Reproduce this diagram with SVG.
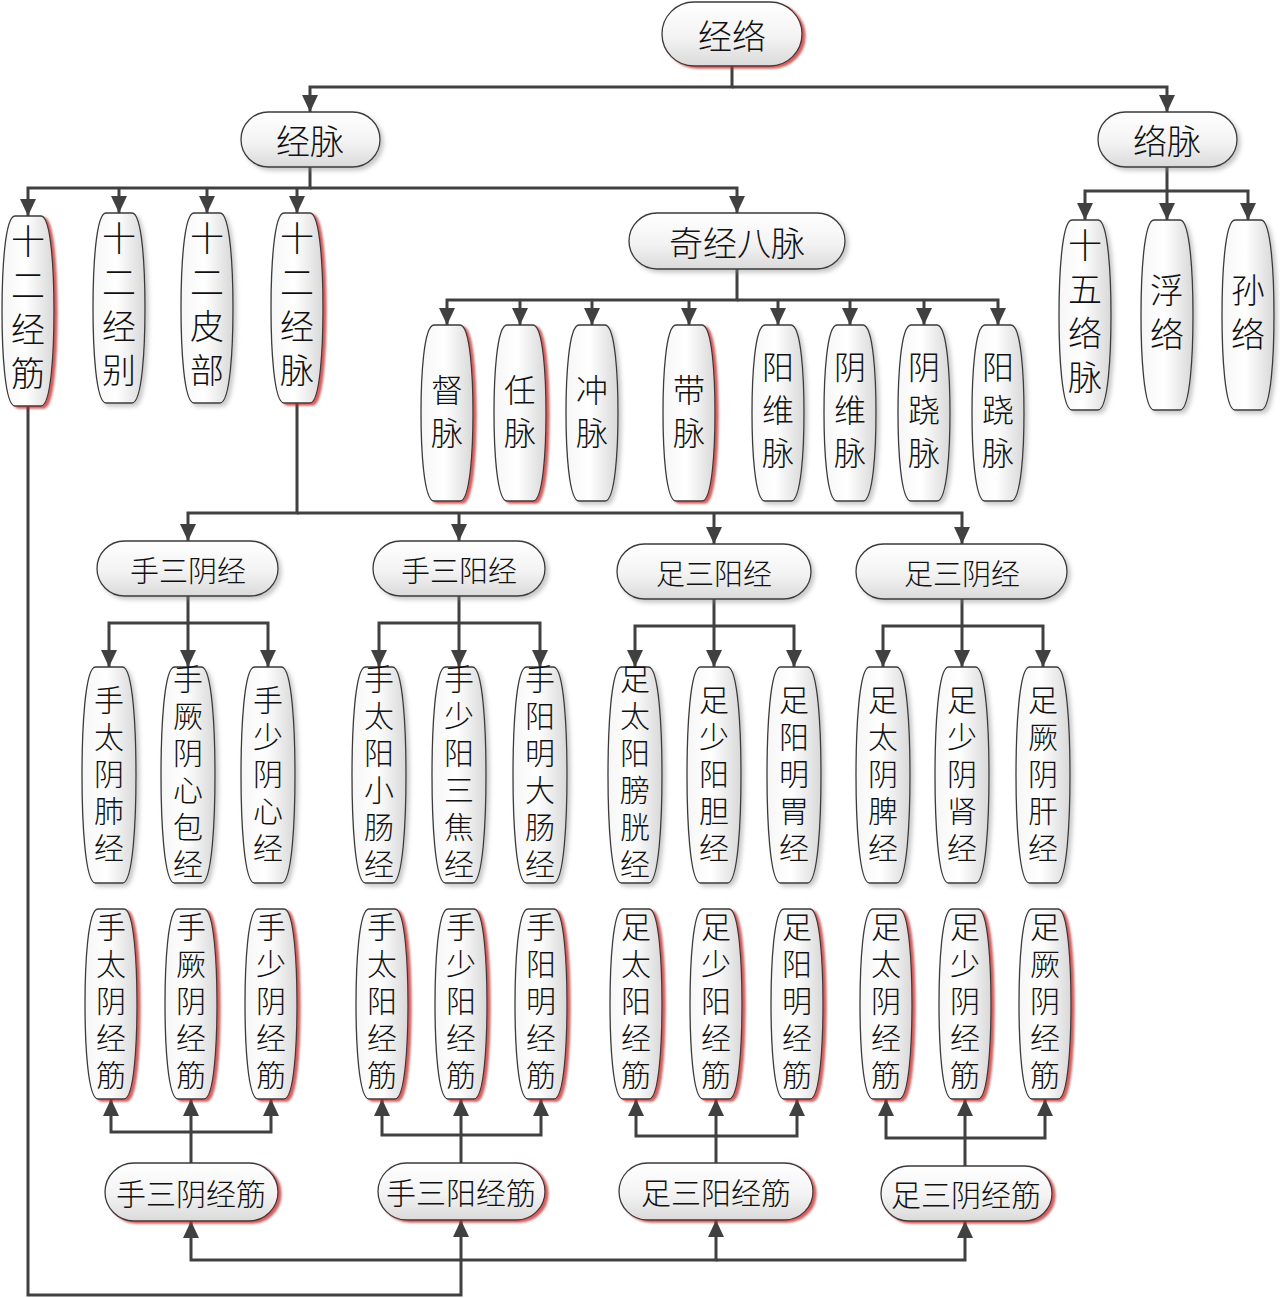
<svg xmlns="http://www.w3.org/2000/svg" width="1280" height="1298" viewBox="0 0 1280 1298">
<style>
.n{fill:url(#hg);stroke:#3a3a3a;stroke-width:1.3;filter:url(#sg)}
.v{fill:url(#vg);stroke:#3a3a3a;stroke-width:1.3;filter:url(#sg)}
.r{filter:url(#sr)}
.c{fill:none;stroke:#404040;stroke-width:3}
.a{marker-end:url(#ar)}
text{font-family:"Noto Sans CJK SC","Noto Sans CJK TC",sans-serif;fill:#111;text-anchor:middle;dominant-baseline:central;font-weight:300}
.vt{writing-mode:vertical-rl;text-anchor:start}
.t34{font-size:34px}.t32{font-size:32px}.t30{font-size:30px}.t29{font-size:29px}
.s10{letter-spacing:10px}.s11{letter-spacing:11px}.s7{letter-spacing:7px}
</style>
<defs>
<linearGradient id="hg" x1="0" y1="0" x2="0" y2="1"><stop offset="0" stop-color="#ffffff"/><stop offset="0.55" stop-color="#f3f3f3"/><stop offset="1" stop-color="#dadada"/></linearGradient>
<linearGradient id="vg" x1="0" y1="0" x2="1" y2="0"><stop offset="0" stop-color="#f6f6f6"/><stop offset="0.45" stop-color="#ffffff"/><stop offset="1" stop-color="#d8d8d8"/></linearGradient>
<filter id="sg" x="-20%" y="-20%" width="150%" height="150%"><feDropShadow dx="3" dy="3" stdDeviation="2" flood-color="#888" flood-opacity="0.45"/></filter>
<filter id="sr" x="-20%" y="-20%" width="150%" height="150%"><feDropShadow dx="3" dy="2" stdDeviation="0.8" flood-color="#c42a2a" flood-opacity="0.75"/></filter>
<marker id="ar" markerUnits="userSpaceOnUse" markerWidth="18" markerHeight="16" refX="17" refY="8" orient="auto"><path d="M0,0 L17,8 L0,16 Z" fill="#404040"/></marker>
<path id="b190" d="M13,0 L39,0 C49.4,0 52,57 52,95 C52,133 49.4,190 39,190 L13,190 C2.6,190 0,133 0,95 C0,57 2.6,0 13,0 Z"/>
<path id="b176" d="M13,0 L39,0 C49.4,0 52,52.8 52,88 C52,123.2 49.4,176 39,176 L13,176 C2.6,176 0,123.2 0,88 C0,52.8 2.6,0 13,0 Z"/>
<path id="b216" d="M13.5,0 L40.5,0 C51.3,0 54,64.8 54,108 C54,151.2 51.3,216 40.5,216 L13.5,216 C2.7,216 0,151.2 0,108 C0,64.8 2.7,0 13.5,0 Z"/>
</defs>
<rect width="1280" height="1298" fill="#ffffff"/>

<g id="connectors">
<path class="c a" d="M732,66 V87 H310 V112"/>
<path class="c a" d="M732,87 H1167 V112"/>
<path class="c a" d="M310,167 V188 H28 V216"/>
<path class="c a" d="M119,188 V213"/>
<path class="c a" d="M207,188 V213"/>
<path class="c a" d="M297,188 V213"/>
<path class="c a" d="M310,188 H737 V213"/>
<path class="c a" d="M1167,167 V191 H1085 V220"/>
<path class="c a" d="M1167,191 V220"/>
<path class="c a" d="M1167,191 H1248 V220"/>
<path class="c a" d="M737,269 V300 H447 V325"/>
<path class="c a" d="M520,300 V325"/>
<path class="c a" d="M592,300 V325"/>
<path class="c a" d="M689,300 V325"/>
<path class="c a" d="M737,300 H998 V325"/>
<path class="c a" d="M778,300 V325"/>
<path class="c a" d="M850,300 V325"/>
<path class="c a" d="M924,300 V325"/>
<path class="c a" d="M297,403 V513 H188 V541"/>
<path class="c a" d="M459,513 V541"/>
<path class="c a" d="M714,513 V544"/>
<path class="c a" d="M297,513 H962 V544"/>
<path class="c a" d="M188,596 V623 H109 V667"/>
<path class="c a" d="M188,623 V667"/>
<path class="c a" d="M188,623 H268 V667"/>
<path class="c a" d="M459,596 V623 H379 V667"/>
<path class="c a" d="M459,623 V667"/>
<path class="c a" d="M459,623 H540 V667"/>
<path class="c a" d="M714,599 V626 H635 V667"/>
<path class="c a" d="M714,626 V667"/>
<path class="c a" d="M714,626 H794 V667"/>
<path class="c a" d="M962,599 V626 H883 V667"/>
<path class="c a" d="M962,626 V667"/>
<path class="c a" d="M962,626 H1043 V667"/>
<path class="c a" d="M191,1163 V1132 H111 V1099"/>
<path class="c a" d="M191,1132 V1099"/>
<path class="c a" d="M191,1132 H271 V1099"/>
<path class="c a" d="M461,1163 V1135 H382 V1099"/>
<path class="c a" d="M461,1135 V1099"/>
<path class="c a" d="M461,1135 H541 V1099"/>
<path class="c a" d="M716,1163 V1136 H636 V1099"/>
<path class="c a" d="M716,1136 V1099"/>
<path class="c a" d="M716,1136 H797 V1099"/>
<path class="c a" d="M965,1166 V1138 H886 V1099"/>
<path class="c a" d="M965,1138 V1099"/>
<path class="c a" d="M965,1138 H1045 V1099"/>
<path class="c a" d="M28,406 V1295 H461 V1220"/>
<path class="c a" d="M461,1260 H191 V1221"/>
<path class="c a" d="M461,1260 H716 V1220"/>
<path class="c a" d="M716,1260 H965 V1221"/>
</g>

<g id="n-jingluo"><rect class="n r" x="662" y="2" width="140" height="64" rx="32"/><text class="t34" x="732" y="34">经络</text></g>
<g id="n-jingmai"><rect class="n" x="241" y="112" width="139" height="55" rx="27.5"/><text class="t34" x="310" y="139">经脉</text></g>
<g id="n-luomai"><rect class="n" x="1098" y="112" width="139" height="55" rx="27.5"/><text class="t34" x="1167" y="139">络脉</text></g>

<g id="n-12jingjin"><use href="#b190" class="v r" x="2" y="216"/><text class="t34 vt s10" x="28" y="224">十二经筋</text></g>
<g id="n-12jingbie"><use href="#b190" class="v" x="93" y="213"/><text class="t34 vt s10" x="119" y="221">十二经别</text></g>
<g id="n-12pibu"><use href="#b190" class="v" x="181" y="213"/><text class="t34 vt s10" x="207" y="221">十二皮部</text></g>
<g id="n-12jingmai"><use href="#b190" class="v r" x="271" y="213"/><text class="t34 vt s10" x="297" y="221">十二经脉</text></g>
<g id="n-qijingbamai"><rect class="n" x="629" y="213" width="216" height="56" rx="28"/><text class="t34" x="737" y="241">奇经八脉</text></g>

<g id="n-15luomai"><use href="#b190" class="v" x="1059" y="220"/><text class="t34 vt s10" x="1085" y="228">十五络脉</text></g>
<g id="n-fuluo"><use href="#b190" class="v" x="1141" y="220"/><text class="t34 vt s10" x="1167" y="273">浮络</text></g>
<g id="n-sunluo"><use href="#b190" class="v" x="1222" y="220"/><text class="t34 vt s10" x="1248" y="273">孙络</text></g>

<g id="n-dumai"><use href="#b176" class="v r" x="421" y="325"/><text class="t32 vt s11" x="447" y="374">督脉</text></g>
<g id="n-renmai"><use href="#b176" class="v r" x="494" y="325"/><text class="t32 vt s11" x="520" y="374">任脉</text></g>
<g id="n-chongmai"><use href="#b176" class="v" x="566" y="325"/><text class="t32 vt s11" x="592" y="374">冲脉</text></g>
<g id="n-daimai"><use href="#b176" class="v r" x="663" y="325"/><text class="t32 vt s11" x="689" y="374">带脉</text></g>
<g id="n-yangweimai"><use href="#b176" class="v" x="752" y="325"/><text class="t32 vt s11" x="778" y="351">阳维脉</text></g>
<g id="n-yinweimai"><use href="#b176" class="v" x="824" y="325"/><text class="t32 vt s11" x="850" y="351">阴维脉</text></g>
<g id="n-yinqiaomai"><use href="#b176" class="v" x="898" y="325"/><text class="t32 vt s11" x="924" y="351">阴跷脉</text></g>
<g id="n-yangqiaomai"><use href="#b176" class="v" x="972" y="325"/><text class="t32 vt s11" x="998" y="351">阳跷脉</text></g>

<g id="n-shousanyinjing"><rect class="n" x="97" y="541" width="181" height="55" rx="27.5"/><text class="t29" x="188" y="569">手三阴经</text></g>
<g id="n-shousanyangjing"><rect class="n" x="373" y="541" width="172" height="55" rx="27.5"/><text class="t29" x="459" y="569">手三阳经</text></g>
<g id="n-zusanyangjing"><rect class="n" x="617" y="544" width="194" height="55" rx="27.5"/><text class="t29" x="714" y="572">足三阳经</text></g>
<g id="n-zusanyinjing"><rect class="n" x="856" y="544" width="211" height="55" rx="27.5"/><text class="t29" x="962" y="572">足三阴经</text></g>

<g id="n-shoutaiyinfei"><use href="#b216" class="v" x="82" y="667"/><text class="t30 vt s7" x="109" y="685">手太阴肺经</text></g>
<g id="n-shoujueyinxinbao"><use href="#b216" class="v" x="161" y="667"/><text class="t30 vt s7" x="188" y="664">手厥阴心包经</text></g>
<g id="n-shoushaoyinxin"><use href="#b216" class="v" x="241" y="667"/><text class="t30 vt s7" x="268" y="685">手少阴心经</text></g>
<g id="n-shoutaiyangxiaochang"><use href="#b216" class="v" x="352" y="667"/><text class="t30 vt s7" x="379" y="664">手太阳小肠经</text></g>
<g id="n-shoushaoyangsanjiao"><use href="#b216" class="v" x="432" y="667"/><text class="t30 vt s7" x="459" y="664">手少阳三焦经</text></g>
<g id="n-shouyangmingdachang"><use href="#b216" class="v" x="513" y="667"/><text class="t30 vt s7" x="540" y="664">手阳明大肠经</text></g>
<g id="n-zutaiyangpangguang"><use href="#b216" class="v" x="608" y="667"/><text class="t30 vt s7" x="635" y="664">足太阳膀胱经</text></g>
<g id="n-zushaoyangdan"><use href="#b216" class="v" x="687" y="667"/><text class="t30 vt s7" x="714" y="685">足少阳胆经</text></g>
<g id="n-zuyangmingwei"><use href="#b216" class="v" x="767" y="667"/><text class="t30 vt s7" x="794" y="685">足阳明胃经</text></g>
<g id="n-zutaiyinpi"><use href="#b216" class="v" x="856" y="667"/><text class="t30 vt s7" x="883" y="685">足太阴脾经</text></g>
<g id="n-zushaoyinshen"><use href="#b216" class="v" x="935" y="667"/><text class="t30 vt s7" x="962" y="685">足少阴肾经</text></g>
<g id="n-zujueyingan"><use href="#b216" class="v" x="1016" y="667"/><text class="t30 vt s7" x="1043" y="685">足厥阴肝经</text></g>

<g id="n-shoutaiyinjingjin"><use href="#b190" class="v r" x="85" y="909"/><text class="t30 vt s7" x="111" y="912">手太阴经筋</text></g>
<g id="n-shoujueyinjingjin"><use href="#b190" class="v r" x="165" y="909"/><text class="t30 vt s7" x="191" y="912">手厥阴经筋</text></g>
<g id="n-shoushaoyinjingjin"><use href="#b190" class="v r" x="245" y="909"/><text class="t30 vt s7" x="271" y="912">手少阴经筋</text></g>
<g id="n-shoutaiyangjingjin"><use href="#b190" class="v r" x="356" y="909"/><text class="t30 vt s7" x="382" y="912">手太阳经筋</text></g>
<g id="n-shoushaoyangjingjin"><use href="#b190" class="v r" x="435" y="909"/><text class="t30 vt s7" x="461" y="912">手少阳经筋</text></g>
<g id="n-shouyangmingjingjin"><use href="#b190" class="v r" x="515" y="909"/><text class="t30 vt s7" x="541" y="912">手阳明经筋</text></g>
<g id="n-zutaiyangjingjin"><use href="#b190" class="v r" x="610" y="909"/><text class="t30 vt s7" x="636" y="912">足太阳经筋</text></g>
<g id="n-zushaoyangjingjin"><use href="#b190" class="v r" x="690" y="909"/><text class="t30 vt s7" x="716" y="912">足少阳经筋</text></g>
<g id="n-zuyangmingjingjin"><use href="#b190" class="v r" x="771" y="909"/><text class="t30 vt s7" x="797" y="912">足阳明经筋</text></g>
<g id="n-zutaiyinjingjin"><use href="#b190" class="v r" x="860" y="909"/><text class="t30 vt s7" x="886" y="912">足太阴经筋</text></g>
<g id="n-zushaoyinjingjin"><use href="#b190" class="v r" x="939" y="909"/><text class="t30 vt s7" x="965" y="912">足少阴经筋</text></g>
<g id="n-zujueyinjingjin"><use href="#b190" class="v r" x="1019" y="909"/><text class="t30 vt s7" x="1045" y="912">足厥阴经筋</text></g>

<g id="n-shousanyinjingjin"><rect class="n r" x="105" y="1163" width="173" height="58" rx="29"/><text class="t30" x="191" y="1192">手三阴经筋</text></g>
<g id="n-shousanyangjingjin"><rect class="n r" x="378" y="1163" width="167" height="57" rx="28.5"/><text class="t30" x="461" y="1191">手三阳经筋</text></g>
<g id="n-zusanyangjingjin"><rect class="n r" x="619" y="1163" width="194" height="57" rx="28.5"/><text class="t30" x="716" y="1191">足三阳经筋</text></g>
<g id="n-zusanyinjingjin"><rect class="n r" x="881" y="1166" width="171" height="55" rx="27.5"/><text class="t30" x="966" y="1193">足三阴经筋</text></g>
</svg>
